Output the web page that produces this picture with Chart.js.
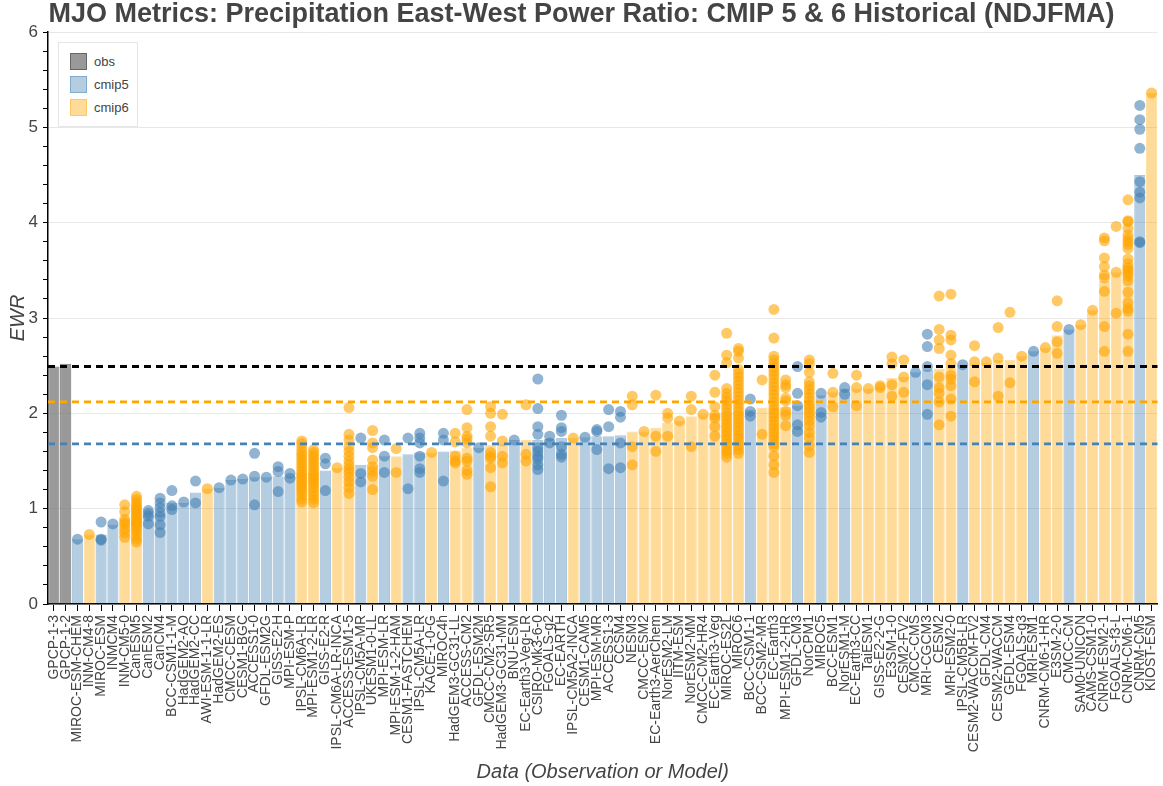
<!DOCTYPE html>
<html><head><meta charset="utf-8">
<script src="https://cdn.jsdelivr.net/npm/chart.js@4.4.1/dist/chart.umd.min.js"></script>
<style>
html,body{margin:0;padding:0;background:#fff;}
#wrap{position:relative;width:1163px;height:786px;}
#legend{position:absolute;left:58px;top:42px;width:80px;height:85px;border:1px solid #e6e6e6;background:#fff;box-sizing:border-box;font:13px "Liberation Sans",Arial,sans-serif;color:#444;}
.item{position:absolute;left:11px;height:17px;line-height:17px;white-space:nowrap;}
.sw{display:inline-block;width:15px;height:15px;vertical-align:top;border:1px solid;margin-right:7px;}
</style></head><body>
<div id="wrap"><canvas id="c"></canvas><div id="legend"></div></div>
<script>
const categories = ['GPCP-1-3','GPCP-1-2','MIROC-ESM-CHEM','INM-CM4-8','MIROC-ESM','INMCM4','INM-CM5-0','CanESM5','CanESM2','CanCM4',
'BCC-CSM1-1-M','HadGEM2-AO','HadGEM2-CC','AWI-ESM-1-1-LR','HadGEM2-ES','CMCC-CESM','CESM1-BGC','ACCESS1-0','GFDL-ESM2G','GISS-E2-H',
'MPI-ESM-P','IPSL-CM6A-LR','MPI-ESM1-2-LR','GISS-E2-R','IPSL-CM6A-LR-INCA','ACCESS-ESM1-5','IPSL-CM5A-MR','UKESM1-0-LL','MPI-ESM-LR','MPI-ESM-1-2-HAM',
'CESM1-FASTCHEM','IPSL-CM5A-LR','KACE-1-0-G','MIROC4h','HadGEM3-GC31-LL','ACCESS-CM2','GFDL-ESM2M','CMCC-CM2-SR5','HadGEM3-GC31-MM','BNU-ESM',
'EC-Earth3-Veg-LR','CSIRO-Mk3-6-0','FGOALS-g2','EC-EARTH','IPSL-CM5A2-INCA','CESM1-CAM5','MPI-ESM-MR','ACCESS1-3','CCSM4','NESM3',
'CMCC-ESM2','EC-Earth3-AerChem','NorESM2-LM','IITM-ESM','NorESM2-MM','CMCC-CM2-HR4','EC-Earth3-Veg','MIROC-ES2L','MIROC6','BCC-CSM1-1',
'BCC-CSM2-MR','EC-Earth3','MPI-ESM1-2-HR','GFDL-CM3','NorCPM1','MIROC5','BCC-ESM1','NorESM1-M','EC-Earth3-CC','TaiESM1',
'GISS-E2-2-G','E3SM-1-0','CESM2-FV2','CMCC-CMS','MRI-CGCM3','CESM2','MRI-ESM2-0','IPSL-CM5B-LR','CESM2-WACCM-FV2','GFDL-CM4',
'CESM2-WACCM','GFDL-ESM4','FGOALS-g3','MRI-ESM1','CNRM-CM6-1-HR','E3SM-2-0','CMCC-CM','SAM0-UNICON','CAMS-CSM1-0','CNRM-ESM2-1',
'FGOALS-f3-L','CNRM-CM6-1','CNRM-CM5','KIOST-ESM'];

const groups = ['obs','obs','cmip5','cmip6','cmip5','cmip5','cmip6','cmip6','cmip5','cmip5',
'cmip5','cmip5','cmip5','cmip6','cmip5','cmip5','cmip5','cmip5','cmip5','cmip5',
'cmip5','cmip6','cmip6','cmip5','cmip6','cmip6','cmip5','cmip6','cmip5','cmip6',
'cmip5','cmip5','cmip6','cmip5','cmip6','cmip6','cmip5','cmip6','cmip6','cmip5',
'cmip6','cmip5','cmip5','cmip5','cmip6','cmip5','cmip5','cmip5','cmip5','cmip6',
'cmip6','cmip6','cmip6','cmip6','cmip6','cmip6','cmip6','cmip6','cmip6','cmip5',
'cmip6','cmip6','cmip6','cmip5','cmip6','cmip5','cmip6','cmip5','cmip6','cmip6',
'cmip6','cmip6','cmip6','cmip5','cmip5','cmip6','cmip6','cmip5','cmip6','cmip6',
'cmip6','cmip6','cmip6','cmip5','cmip6','cmip6','cmip5','cmip6','cmip6','cmip6',
'cmip6','cmip6','cmip5','cmip6'];

const ewr = [2.49,2.52,0.68,0.73,0.73,0.83,0.84,0.89,0.93,0.95,
1.06,1.06,1.17,1.21,1.22,1.30,1.31,1.33,1.33,1.34,
1.34,1.38,1.38,1.40,1.43,1.45,1.46,1.46,1.55,1.55,
1.57,1.59,1.59,1.60,1.61,1.64,1.64,1.67,1.68,1.72,
1.72,1.72,1.73,1.74,1.74,1.75,1.76,1.76,1.77,1.81,
1.81,1.85,1.90,1.92,1.97,1.99,2.00,2.01,2.02,2.04,
2.06,2.06,2.07,2.08,2.10,2.19,2.22,2.26,2.26,2.26,
2.28,2.37,2.38,2.43,2.46,2.47,2.49,2.51,2.52,2.53,
2.56,2.56,2.60,2.65,2.69,2.82,2.88,2.93,3.08,3.39,
3.48,3.55,4.50,5.36];

const members = [
[],[],[0.68],[0.73],[0.86,0.68,0.67],[0.84],[1.04,0.97,0.89,0.86,0.84,0.79,0.75,0.70],
[1.13,1.10,1.07,1.04,1.02,1.00,0.98,0.96,0.94,0.92,0.90,0.88,0.86,0.84,0.82,0.79,0.76,0.72,0.68,0.65],
[0.98,0.95,0.92,0.84],[1.11,1.06,1.01,0.96,0.92,0.83,0.75],
[1.19,1.03,0.99],[1.07],[1.29,1.06],[1.21],[1.22],[1.30],[1.31],[1.58,1.34,1.04],[1.33],[1.44,1.39,1.18],
[1.37,1.32],
[1.71,1.68,1.64,1.60,1.57,1.54,1.51,1.48,1.45,1.42,1.39,1.36,1.33,1.30,1.27,1.24,1.21,1.18,1.14,1.10,1.07],
[1.62,1.59,1.56,1.53,1.50,1.47,1.44,1.41,1.38,1.35,1.32,1.29,1.26,1.22,1.18,1.14,1.10,1.06],
[1.53,1.47,1.19],[1.43],
[2.06,1.78,1.72,1.65,1.60,1.55,1.50,1.46,1.42,1.38,1.33,1.28,1.22,1.16],
[1.74,1.37,1.28],[1.82,1.69,1.64,1.51,1.44,1.39,1.34,1.20],[1.72,1.55,1.38],[1.63,1.38],
[1.74,1.21],[1.79,1.74,1.69,1.55,1.42,1.38],[1.59],[1.79,1.72,1.29],[1.79,1.70,1.55,1.50,1.48],
[2.04,1.85,1.76,1.73,1.69,1.53,1.50,1.40,1.36],[1.64],[2.07,2.00,1.86,1.76,1.59,1.55,1.53,1.43,1.23],
[1.99,1.71,1.55,1.48],[1.72],
[2.09,1.57,1.50],[2.36,2.05,1.86,1.78,1.64,1.60,1.55,1.52,1.46,1.41],[1.76,1.69],[1.98,1.85,1.81,1.65,1.57,1.54],
[1.74],[1.75],[1.83,1.81,1.62],[2.04,1.86,1.42],[2.02,1.96,1.69,1.43],[2.18,2.09,1.65,1.46],
[1.81],[2.19,1.76,1.60],[2.00,1.95,1.76],[1.92],[2.18,2.04,1.65],[1.99],[2.40,2.22,2.07,1.98,1.95,1.86,1.76],
[2.84,2.61,2.53,2.26,2.21,2.17,2.13,2.09,2.05,2.01,1.97,1.93,1.89,1.85,1.81,1.77,1.73,1.69,1.65,1.61,1.58,1.54],
[2.68,2.65,2.58,2.46,2.42,2.38,2.34,2.30,2.26,2.22,2.18,2.14,2.10,2.06,2.02,1.98,1.94,1.90,1.86,1.82,1.78,1.74,1.70,1.66,1.62,1.58],
[2.15,2.02,1.97],
[2.35,1.78],
[3.09,2.79,2.60,2.56,2.52,2.48,2.44,2.40,2.36,2.32,2.28,2.24,2.20,2.16,2.12,2.08,2.04,2.00,1.96,1.92,1.88,1.84,1.80,1.76,1.72,1.68,1.65,1.55,1.46,1.38],
[2.35,2.30,2.27,2.16,2.13,2.02,1.98,1.87],[2.49,2.21,2.08,1.88,1.81],
[2.56,2.52,2.43,2.33,2.29,2.25,2.21,2.17,2.13,2.09,2.05,2.01,1.97,1.92,1.87,1.80,1.74,1.66,1.59],
[2.21,2.01,1.96],[2.42,2.22,2.07],[2.27,2.20],[2.40,2.27,2.08],[2.26],
[2.29,2.27],[2.59,2.52,2.30,2.18],[2.56,2.38,2.22],[2.43],[2.83,2.70,2.49,2.30,1.99],
[3.23,2.88,2.77,2.68,2.38,2.27,2.21,2.12,1.88],[3.25,2.82,2.77,2.61,2.52,2.40,2.36,2.29,2.15,1.97],
[2.51],[2.71,2.54,2.33],[2.54],
[2.90,2.58,2.18],[3.06,2.32],[2.60],[2.65],[2.69],[3.18,2.91,2.75,2.63],[2.88],[2.93],[3.08],
[3.84,3.81,3.63,3.54,3.45,3.42,3.28,2.91,2.65],
[3.96,3.48,3.05],
[4.24,4.02,4.01,3.94,3.87,3.83,3.80,3.77,3.73,3.62,3.57,3.53,3.50,3.47,3.44,3.39,3.27,3.16,3.10,3.07,2.83,2.65],
[5.23,5.08,4.98,4.78,4.43,4.32,4.26,3.80,3.79],
[5.36]];

const groupNames = ['obs','cmip5','cmip6'];
const refValues = [2.49, 2.12, 1.68]; // obs, cmip6, cmip5 averages
const titleText = 'MJO Metrics: Precipitation East-West Power Ratio: CMIP 5 & 6 Historical (NDJFMA)';

const FONT = '"Liberation Sans", Arial, Helvetica, sans-serif';
const barFill = {obs:'rgba(128,128,128,0.8)', cmip5:'rgba(70,130,180,0.4)', cmip6:'rgba(255,165,0,0.4)'};
const barEdge = {obs:'rgba(90,90,90,0.8)', cmip5:'rgba(70,130,180,0.45)', cmip6:'rgba(255,165,0,0.35)'};
const dotColor = {cmip5:'rgba(70,130,180,0.6)', cmip6:'rgba(255,165,0,0.6)'};
const refColors = ['#000000', '#FFA500', '#4682B4'];
const refWidths = [3, 2.6, 2.6];

const datasets = [];
['cmip5','cmip6'].forEach(g => {
  const pts = [];
  categories.forEach((c, i) => { if (groups[i] === g) members[i].forEach(v => pts.push({x: c, y: v})); });
  datasets.push({type:'line', label: g + ' members', data: pts, showLine:false, pointRadius:5.5,
    pointHoverRadius:5.5, pointBackgroundColor: dotColor[g], pointBorderWidth:0, borderColor:'transparent', order:0});
});
groupNames.forEach(g => {
  datasets.push({type:'bar', label: g, data: ewr.map((v, i) => groups[i] === g ? v : null),
    backgroundColor: barFill[g], borderColor: barEdge[g], borderWidth: 1, grouped:false,
    categoryPercentage: 1.0, barPercentage: 0.95, order: 1});
});

const refLines = {
  id: 'refLines',
  afterDatasetsDraw(chart) {
    const {ctx, chartArea, scales} = chart;
    refValues.forEach((v, i) => {
      const y = scales.y.getPixelForValue(v);
      ctx.save();
      ctx.strokeStyle = refColors[i];
      ctx.lineWidth = refWidths[i];
      ctx.setLineDash([7, 5]);
      ctx.beginPath();
      ctx.moveTo(chartArea.left, y);
      ctx.lineTo(chartArea.right, y);
      ctx.stroke();
      ctx.restore();
    });
  }
};

const isInt = v => Math.abs(v - Math.round(v)) < 1e-6;

new Chart(document.getElementById('c'), {
  type: 'bar',
  data: { labels: categories, datasets },
  plugins: [refLines],
  options: {
    responsive: true, maintainAspectRatio: false, animation: false,
    layout: { padding: 0 },
    plugins: {
      legend: { display: false },
      tooltip: { enabled: false },
      title: { display: true, text: titleText, color: '#444', align: 'center',
        font: { family: FONT, size: 27, weight: 'bold', lineHeight: 1.1 }, padding: { top: 0, bottom: 2.3 } }
    },
    scales: {
      x: {
        type: 'category', offset: true,
        grid: { display: true, drawOnChartArea: false, offset: false, drawTicks: true, tickLength: 7, tickColor: '#000', tickWidth: 1 },
        border: { display: true, color: '#000', width: 1.5 },
        ticks: { autoSkip: false, minRotation: 90, maxRotation: 90, color: '#444', padding: 4,
          font: { family: FONT, size: 14 } },
        title: { display: true, text: 'Data (Observation or Model)', color: '#444',
          font: { family: FONT, size: 20, style: 'italic' }, padding: { top: 0, bottom: 2 } },
        afterFit: s => { s.height = 182; s.paddingLeft = 0; s.paddingRight = 0; }
      },
      y: {
        min: 0, max: 6,
        grid: { color: ctx => isInt(ctx.tick.value) ? '#e8e8e8' : 'transparent', lineWidth: 1,
          drawTicks: true, tickLength: 5, tickColor: '#000' },
        border: { display: true, color: '#000', width: 1.5 },
        ticks: { stepSize: 0.2, autoSkip: false, color: '#444', padding: 5,
          font: { family: FONT, size: 17 },
          callback: v => isInt(v) ? String(Math.round(v)) : '' },
        title: { display: true, text: 'EWR', color: '#444',
          font: { family: FONT, size: 20, style: 'italic' }, padding: { top: 6, bottom: 0 } },
        afterFit: s => { s.width = 48; }
      }
    }
  }
});

const leg = document.getElementById('legend');
groupNames.forEach((g, i) => {
  const it = document.createElement('div');
  it.className = 'item';
  it.style.top = (10 + i * 23) + 'px';
  const sw = document.createElement('span');
  sw.className = 'sw';
  sw.style.background = barFill[g];
  sw.style.borderColor = barEdge[g];
  it.appendChild(sw);
  it.appendChild(document.createTextNode(g));
  leg.appendChild(it);
});
</script>
</body></html>
